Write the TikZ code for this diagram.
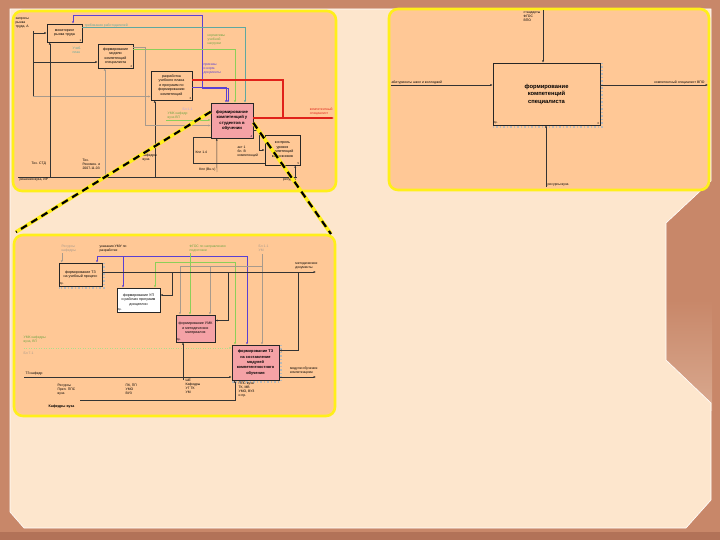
\documentclass[tikz,border=0pt]{standalone}
\usepackage{fontspec}
\setmainfont{Liberation Sans}
\usetikzlibrary{arrows.meta,positioning}
\definecolor{frameBr}{HTML}{C88769}
\definecolor{frameDk}{HTML}{B27258}
\definecolor{notchLt}{HTML}{D9A98F}
\definecolor{cream}{HTML}{FDE6CD}
\definecolor{peach}{HTML}{FFC896}
\definecolor{glow}{HTML}{FFEF1A}
\definecolor{pinkFn}{HTML}{F5A2A6}
\definecolor{redArr}{HTML}{E0221A}
\definecolor{violet}{HTML}{5A40D2}
\definecolor{grnArr}{HTML}{8CCF58}
\definecolor{tealArr}{HTML}{5FA8A0}
\definecolor{grayArr}{HTML}{A89A8C}

\tikzset{
  panel/.style={fill=peach,draw=glow,line width=2.6pt,rounded corners=9pt},
  fnbox/.style={draw=black!85,line width=0.5pt,fill=peach,inner sep=0.5pt,align=center,
    font=\fontsize{3.6}{4.5}\selectfont},
  fnpink/.style={fnbox,fill=pinkFn,font=\fontsize{4.2}{5.6}\selectfont\bfseries},
  lbl/.style={inner sep=0.4pt,align=left,font=\fontsize{3.4}{4}\selectfont},
  boxno/.style={inner sep=0.8pt,font=\fontsize{2.8}{2.8}\selectfont},
  ln/.style={draw=black!80,line width=0.45pt},
  arr/.style={ln,-{Latex[length=2.4pt,width=2pt]}},
  varr/.style={arr,draw=violet,line width=0.75pt},
  garr/.style={arr,draw=grnArr},
  tarr/.style={arr,draw=tealArr},
  grarr/.style={arr,draw=grayArr},
  rarr/.style={arr,draw=redArr,line width=1.3pt},
  hatch/.style={draw=gray!55,dotted,line width=1.5pt},
  zoomln/.style={draw=black,line width=2.2pt,dash pattern=on 7pt off 5pt,
    preaction={draw=glow,line width=3.6pt,solid}},
}

\begin{document}
\begin{tikzpicture}[x=1pt,y=-1pt]
\useasboundingbox (0,0) rectangle (720,540);
% slide frame
\fill[frameBr] (0,0) rectangle (720,540);
\fill[frameDk] (0,532) rectangle (720,540);
\shade[top color=frameBr,bottom color=notchLt] (664,300) rectangle (712,410);
\fill[cream,draw=white,line width=0.6pt] (10,9) -- (711,9) -- (711,181) -- (666,223) -- (666,360)
  -- (711,403) -- (711,500) -- (686,528) -- (24,528) -- (10,512) -- cycle;

% three panels
\path[panel] (13,11) rectangle (336,191);
\path[panel] (389,9) rectangle (709,190);
\path[panel] (14,235) rectangle (335,416);

% ---------- context diagram (top right)
\node[fnbox,minimum width=107pt,minimum height=62pt,font=\fontsize{5.8}{7.5}\selectfont\bfseries,
  label={[boxno,anchor=south west]south west:0р.},label={[boxno,anchor=south east]south east:0}]
  (b0) at (546.5,94) {формирование\\компетенций\\специалиста};
\draw[hatch] ([xshift=1.6pt]b0.north east) -- ([shift={(1.6pt,-1.6pt)}]b0.south east) -- ([yshift=-1.6pt]b0.south west);
\coordinate (bIn) at (391,85);
\coordinate (bOut) at (708,85);
\coordinate (bCtl) at (543,10);
\coordinate (bMec) at (546,187);
\draw[arr] (bIn) -- (bIn -| b0.west);
\draw[arr] (bOut -| b0.east) -- (bOut);
\draw[arr] (bCtl) -- (bCtl |- b0.north);
\draw[arr] (bMec) -- (bMec |- b0.south);
\node[lbl,anchor=south west] (bInL) at (bIn) {абитуриенты школ и колледжей};
\node[lbl,anchor=south east] (bOutL) at ([xshift=-3pt]bOut) {компетентный специалист ВПО};
\node[lbl,anchor=north east] (bCtlL) at ([xshift=-2pt,yshift=-1pt]bCtl) {стандарты\\ФГОС\\ВПО};
\node[lbl,anchor=south west] (bMecL) at ([xshift=1pt]bMec) {ресурсы вуза};

% ---------- decomposition (top left)
\node[fnbox,minimum width=35pt,minimum height=18pt,label={[boxno,anchor=south east]south east:1}]
  (a1) at (64.5,33) {мониторинг\\рынка труда};
\node[fnbox,minimum width=35pt,minimum height=24pt,label={[boxno,anchor=south east]south east:2}]
  (a2) at (115.5,56) {формирование\\модели\\компетенций\\специалиста};
\node[fnbox,minimum width=41pt,minimum height=29pt,label={[boxno,anchor=south east]south east:3}]
  (a3) at (171.5,85.5) {разработка\\учебного плана\\и программ по\\формированию\\компетенций};
\node[fnpink,minimum width=42pt,minimum height=35pt,label={[boxno,anchor=south east]south east:4}]
  (a4) at (232,120.5) {формирование\\компетенций у\\студентов в\\обучении};
\node[fnbox,minimum width=35pt,minimum height=30pt,label={[boxno,anchor=south east]south east:5}]
  (a5) at (282.5,150) {контроль\\уровня\\компетенций\\выпускников};

\node[lbl,anchor=north west] (aLT) at (15,17) {запросы\\рынка\\труда, А};
\coordinate (aL1) at (33,31);
\coordinate (aL2) at (33,96.5);
\coordinate (a2in) at ([yshift=-6pt]a2.west);
\coordinate (a3in) at ([yshift=-11pt]a3.west);
\draw[ln] (aL1) -- (aL2);
\draw[arr] (aL1 |- a1.west) -- (a1.west);
\draw[arr] (aL1 |- a2in) -- (a2in);
\draw[grarr] (aL2) -- (a3in);

% mechanisms
\coordinate (aB0) at (18,177);
\coordinate (aB9) at (297,177);
\coordinate (a1m) at ([xshift=3pt]a1.south west);
\coordinate (a2m) at ([xshift=7pt]a2.south west);
\coordinate (a3m) at ([xshift=4pt]a3.south west);
\coordinate (a4m) at ([xshift=6pt]a4.south west);
\coordinate (a5m) at ([xshift=-5pt]a5.south east);
\coordinate (aB4) at (217,172);
\draw[ln] (aB0) -- (aB9);
\draw[arr] (a1m |- aB0) -- (a1m);
\draw[grarr] (a2m |- aB0) -- (a2m);
\draw[arr] (a3m |- aB0) -- (a3m);
\draw[arr] (aB4) -- (a4m);
\draw[arr] (a5m |- aB0) -- (a5m);
\node[lbl,anchor=north west] (aBL) at (19,178) {решения вуза, ИР};
\node[lbl,anchor=west] (aBL1) at (31,164) {Тех. СТД};
\node[lbl,anchor=north west] (aBL2) at (82,159) {Тех.\\Рекомен. и\\2007-11-03};
\node[lbl,anchor=north west] (aBL3) at (142,153) {кафедры\\вуза};
\node[lbl,anchor=south east] (aBL4) at ([xshift=-1pt]aB4) {Кпл (Вн-ч)};
\node[lbl,anchor=north east] (aBL5) at ([yshift=-1pt]aB9) {ресурсы};

% loops round box 4 and 5
\coordinate (aK1) at (193,137);
\coordinate (a5fb) at ([yshift=-13pt]a5.west);
\coordinate (a4o2) at ([yshift=-9.5pt]a4.east);
\coordinate (aJ) at (259,130);
\draw[ln] (a5fb) -| (aK1) -- (aK1 -| a4.west);
\draw[arr] (a4o2) -- (aJ) |- (a5.west);
\node[lbl,anchor=west] (aKL) at (195,152) {Кпл 1.4};
\node[lbl,anchor=north west] (aKL2) at (237,146) {акт 1\\бп. В\\компетенций};

% violet control
\coordinate (aP1) at (202,15);
\coordinate (aP2) at (202,88);
\coordinate (a1c) at ([xshift=8.5pt]a1.north);
\coordinate (a4c) at ([xshift=-4pt]a4.north);
\coordinate (a3v) at ([yshift=-1.5pt]a3.east);
\draw[varr] (aP2) -- (aP1) -| (a1c);
\draw[varr] (aP2) -| (a4c);
\draw[varr] (a3v) -| ([xshift=-2pt]a4c);
\node[lbl,anchor=north west,text=violet] (aPL) at (203,63) {приказы\\и норм.\\документы};

% teal, gray and green controls
\coordinate (a1t) at ([yshift=6pt]a1.east);
\coordinate (a4t) at ([xshift=13pt]a4.north);
\draw[tarr] (a1t) -| (a4t);
\node[lbl,anchor=south west,text=tealArr] (aTL) at (84,27.5) {требования работодателей};
\coordinate (a2g) at ([yshift=7pt]a2.east);
\coordinate (a4g) at ([xshift=3pt]a4.north);
\draw[garr] (a2g) -| (a4g);
\node[lbl,anchor=north west,text=grnArr!80!black] (aGL) at (207,34) {нормативы\\учебной\\нагрузки};
\node[lbl,anchor=north west,text=tealArr] (aGL2) at (72,46) {Учеб.\\план};
\coordinate (aG1) at (145,47);
\coordinate (a4gr) at ([yshift=-5pt]a4.west);
\draw[ln,draw=grayArr] ([yshift=9pt]a2.east) -- (aG1);
\draw[grarr] (aG1) |- (a4gr);
\coordinate (aGr) at (166,120);
\draw[garr] (aGr) -- (aGr -| a4.west);
\node[lbl,anchor=south west,text=grnArr!80!black] (aGrL) at (167,119.5) {УМК кафедр\\вуза ВП};
\node[lbl,anchor=south west,text=violet!45] (aVL) at (182,111) {Бл 1.1};

% red output
\coordinate (a3r) at ([yshift=5.5pt]a3.east);
\coordinate (aR1) at (283,118);
\coordinate (aRout) at (334,118);
\draw[ln,draw=redArr,line width=1.3pt] (a3r) -| (aR1);
\draw[rarr] (aR1 -| a4.east) -- (aRout);
\node[lbl,anchor=south east,text=redArr] (aRL) at (333,116) {компетентный\\специалист};

% ---------- detail of box 4 (bottom left)
\node[fnbox,minimum width=43pt,minimum height=23pt,label={[boxno,anchor=south west]south west:0р.}]
  (c1) at (80.5,274.5) {формирование ТЗ\\на учебный процесс};
\node[fnbox,fill=white,minimum width=43pt,minimum height=24pt,label={[boxno,anchor=south west]south west:0р.}]
  (c2) at (138.5,300) {формирование УП\\и рабочих программ\\дисциплин};
\node[fnbox,fill=pinkFn,minimum width=39pt,minimum height=27pt,label={[boxno,anchor=south west]south west:0р.}]
  (c3) at (195.5,328.5) {формирование УМК\\и методических\\материалов};
\node[fnpink,font=\fontsize{3.9}{5.4}\selectfont\bfseries,minimum width=47pt,minimum height=35pt]
  (c4) at (255.5,362.5) {формирование ТЗ\\на составление\\модулей\\компетентностного\\обучения};
\draw[hatch] ([xshift=1.6pt]c1.north east) -- ([shift={(1.6pt,-1.6pt)}]c1.south east) -- ([yshift=-1.6pt]c1.south west);
\draw[hatch] ([xshift=1.6pt]c4.north east) -- ([shift={(1.6pt,-1.6pt)}]c4.south east) -- ([yshift=-1.6pt]c4.south west);

% top labels and controls
\node[lbl,anchor=north west,text=grayArr] (cT1) at (61,245) {Ресурсы\\кафедры};
\node[lbl,anchor=north west] (cT2) at (99,245) {указания УМУ по\\разработке};
\node[lbl,anchor=north west,text=grnArr!80!black] (cT3) at (189,245) {ФГОС по направлению\\подготовки};
\node[lbl,anchor=north west,text=grayArr] (cT4) at (258,245) {Бл 1.1\\УМ};
\coordinate (c1g) at ([xshift=3pt]c1.north west);
\draw[grarr] (c1g |- cT1.south) -- (c1g);
\coordinate (cV0) at (97,256);
\coordinate (cV1) at (247,256);
\coordinate (c2v) at ([xshift=-15.5pt]c2.north);
\draw[varr] (cV0) -- (cV0 |- c1.north);
\draw[varr] (cV0) -- (cV1) -- (cV1 |- c4.north);
\draw[varr] (c2v |- cV0) -- (c2v);
\coordinate (cG0) at (190,253);
\coordinate (cG1) at (155,262);
\coordinate (c4gx) at ([xshift=-20.5pt]c4.north);
\draw[garr] (cG0) -- (cG0 |- c3.north);
\draw[ln,draw=grnArr] (cG1) -- (cG1 -| cG0);
\draw[garr] (cG1) -- (cG1 |- c2.north);
\draw[garr] (cG1 -| cG0) -| (c4gx);
\coordinate (cR0) at (262,254);
\coordinate (cR1) at (180,266);
\coordinate (c3g) at ([xshift=14.5pt]c3.north);
\draw[grarr] (cR0) -- (cR0 |- c4.north);
\draw[ln,draw=grayArr] (cR0 |- cR1) -- (cR1);
\draw[grarr] (cR1) -- (cR1 |- c3.north);
\draw[grarr] (c3g |- cR1) -- (c3g);

% outputs and feedback
\coordinate (c1o) at ([yshift=2.5pt]c1.east);
\coordinate (cO1) at (316,272);
\draw[arr] (c1o) -- (c1o -| cO1);
\node[lbl,anchor=south east] (cO1L) at (318,270) {методические\\документы};
\coordinate (cK1) at (172,272);
\coordinate (cK2) at (228,272);
\coordinate (cK3) at (298,272);
\coordinate (c2r) at ([yshift=5pt]c2.east);
\coordinate (c3r) at ([yshift=8pt]c3.east);
\coordinate (c4r) at ([yshift=12pt]c4.east);
\draw[arr] (cK1) |- (c2r);
\draw[arr] (cK2) |- (c3r);
\draw[arr] (cK3) |- (c4r);

% inputs
\coordinate (cIn) at (24,377);
\coordinate (c4i) at ([yshift=-14.5pt]c4.west);
\draw[arr] (cIn) -- (c4i);
\node[lbl,anchor=south west] (cInL) at (25,376) {ТЗ кафедр};
\coordinate (cGl) at (24,348);
\coordinate (c4gi) at ([yshift=14.5pt]c4.west);
\draw[garr,draw=grnArr!70,dotted] (cGl) -- (c4gi);
\node[lbl,anchor=north west,text=grnArr!80!black] (cL1) at (23,335) {УМК кафедры\\вуза, ВП};
\node[lbl,anchor=north west,text=grayArr] (cL2) at (23,352) {Бл 7.1};
\coordinate (cOut) at (316,377);
\draw[arr] (c4i -| c4.east) -- (cOut);
\node[lbl,anchor=south east] (cOutL) at (318,375) {модули обучения\\компетенциям};

% mechanisms
\coordinate (cM0) at (80,400);
\coordinate (c4m) at ([xshift=3pt]c4.south west);
\coordinate (c3m) at ([xshift=-12.5pt]c3.south);
\coordinate (cM3) at (183,380);
\draw[arr] (cM0) -| (c4m);
\draw[arr] (cM3) -- (c3m);
\node[lbl,anchor=north west] (cBL1) at (57,384) {Ресурсы\\Преп. ППС\\вуза};
\node[lbl,anchor=north west] (cBL2) at (125,384) {ПК, ПП\\УМО\\ВУЗ};
\node[lbl,anchor=north west] (cBL3) at (185,379) {ШЕ\\Кафедры\\УГ ТК\\УМ};
\node[lbl,anchor=north west] (cBL4) at (238,382) {ППС вуза\\ТК, МВ\\УМО, ВУЗ\\и пр.};
\node[lbl,anchor=west,font=\fontsize{3.6}{4}\selectfont\bfseries] (cBot) at (48,407) {Кафедры вуза};

% zoom marks
\coordinate (zA) at (16,232);
\coordinate (zB) at (331,234);
\draw[zoomln] ([yshift=-9pt]a4.north west) -- (zA);
\draw[zoomln] ([yshift=-20pt]a4.north east) -- (zB);
\end{tikzpicture}
\end{document}
